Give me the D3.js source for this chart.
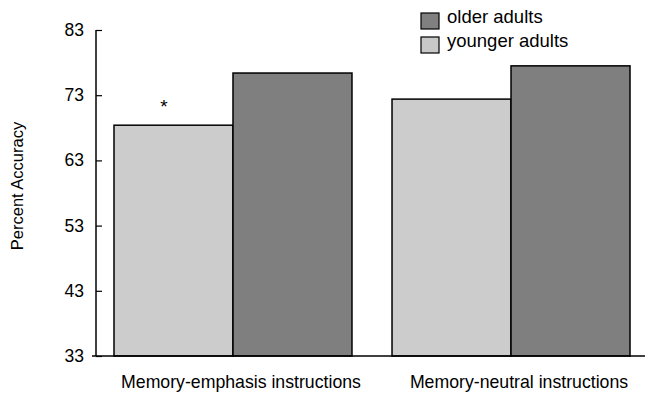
<!DOCTYPE html>
<html>
<head>
<meta charset="utf-8">
<script src="https://cdn.jsdelivr.net/npm/d3@7"></script>
<style>
  body { margin: 0; background: #fff; }
  text { font-family: "Liberation Sans", Arial, sans-serif; fill: #000; }
</style>
</head>
<body>
<script>
const conditions = ["Memory-emphasis instructions", "Memory-neutral instructions"];
const groups = ["younger adults", "older adults"];
const younger = [68.4, 72.4];
const older = [76.4, 77.5];
const yTicks = [33, 43, 53, 63, 73, 83];
const colors = { "younger adults": "#cccccc", "older adults": "#7f7f7f" };

const W = 645, H = 394;
const svg = d3.select("body").append("svg")
    .attr("width", W)
    .attr("height", H);

const y = d3.scaleLinear().domain([33, 83]).range([356, 30]);

const x0 = d3.scaleBand()
    .domain(conditions)
    .range([114, 630])
    .paddingInner(0.144)
    .paddingOuter(0);

const x1 = d3.scaleBand()
    .domain(groups)
    .range([0, x0.bandwidth()])
    .padding(0);

const data = conditions.map((c, i) => ({
    cond: c,
    values: [
        { group: "younger adults", v: younger[i] },
        { group: "older adults", v: older[i] }
    ]
}));

// bars
const g = svg.selectAll("g.cond")
    .data(data)
    .enter()
    .append("g")
    .attr("class", "cond")
    .attr("transform", d => `translate(${x0(d.cond)},0)`);

g.selectAll("rect")
    .data(d => d.values)
    .enter()
    .append("rect")
    .attr("x", d => x1(d.group))
    .attr("y", d => y(d.v))
    .attr("width", x1.bandwidth())
    .attr("height", d => y(33) - y(d.v))
    .attr("fill", d => colors[d.group])
    .attr("stroke", "#000")
    .attr("stroke-width", 1.5);

// significance star over younger, memory-emphasis
svg.append("text")
    .attr("x", x0(conditions[0]) + x1("younger adults") + x1.bandwidth() * 0.42)
    .attr("y", y(younger[0]) - 12)
    .attr("text-anchor", "middle")
    .style("font-size", "19px")
    .text("*");

// y axis
const yAxis = svg.append("g")
    .attr("transform", "translate(96,0)")
    .call(d3.axisRight(y).tickValues(yTicks).tickSize(6).tickFormat(d3.format("d")));
yAxis.select(".domain").remove();
yAxis.selectAll("text").remove();
yAxis.selectAll("line").attr("stroke", "#000").attr("stroke-width", 1.2);

svg.append("line")
    .attr("x1", 96).attr("x2", 96)
    .attr("y1", y(83)).attr("y2", y(33))
    .attr("stroke", "#000").attr("stroke-width", 1.5);

svg.selectAll("text.ytick")
    .data(yTicks)
    .enter()
    .append("text")
    .attr("class", "ytick")
    .attr("x", 84)
    .attr("y", d => y(d) + 6)
    .attr("text-anchor", "end")
    .style("font-size", "17.5px")
    .text(d => d);

// baseline
svg.append("line")
    .attr("x1", 92).attr("x2", W)
    .attr("y1", y(33)).attr("y2", y(33))
    .attr("stroke", "#000").attr("stroke-width", 1.5);

// x labels
svg.selectAll("text.xlab")
    .data(conditions)
    .enter()
    .append("text")
    .attr("class", "xlab")
    .attr("x", d => x0(d) + x0.bandwidth() / 2 + 8)
    .attr("y", 388)
    .attr("text-anchor", "middle")
    .style("font-size", "17.7px")
    .text(d => d);

// y title
svg.append("text")
    .attr("transform", "translate(23,186) rotate(-90)")
    .attr("text-anchor", "middle")
    .style("font-size", "16.5px")
    .text("Percent Accuracy");

// legend
const legendItems = ["older adults", "younger adults"];
const lg = svg.selectAll("g.legend")
    .data(legendItems)
    .enter()
    .append("g")
    .attr("class", "legend")
    .attr("transform", (d, i) => `translate(421,${13 + i * 24})`);

lg.append("rect")
    .attr("width", 18)
    .attr("height", 16)
    .attr("fill", d => d === "older adults" ? "#808080" : "#c8c8c8")
    .attr("stroke", "#000")
    .attr("stroke-width", 1.2);

lg.append("text")
    .attr("x", 26)
    .attr("y", 10)
    .style("font-size", "18.5px")
    .text(d => d);
</script>
</body>
</html>
